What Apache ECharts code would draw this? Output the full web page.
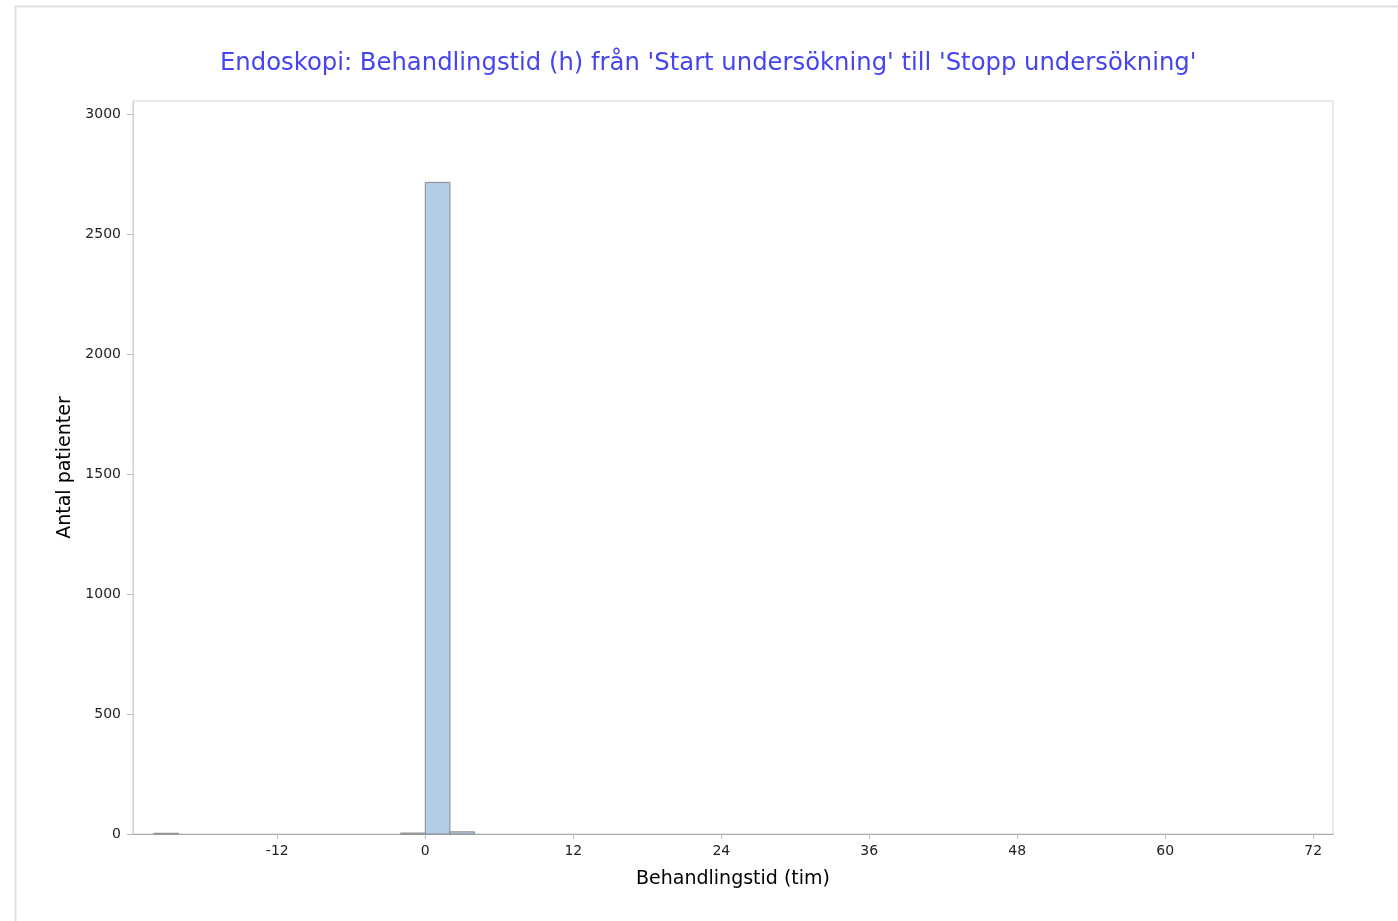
<!DOCTYPE html>
<html>
<head>
<meta charset="utf-8">
<script src="https://cdn.jsdelivr.net/npm/echarts@6/dist/echarts.min.js"></script>
<style>
html,body{margin:0;padding:0;background:#fff;}
#chart{width:1398px;height:921px;}
</style>
</head>
<body>
<div id="chart"></div>
<script>
// Histogram data (bin start in hours, bin width 2 h)
const binStarts = [-22, -2, 0, 2];
const binWidth = 2;
const counts = [3, 4, 2715, 9];
const xTicks = [-12, 0, 12, 24, 36, 48, 60, 72];
const yTicks = [0, 500, 1000, 1500, 2000, 2500, 3000];
const titleText = "Endoskopi: Behandlingstid (h) från 'Start undersökning' till 'Stopp undersökning'";
const xName = "Behandlingstid (tim)";
const yName = "Antal patienter";

const histData = binStarts.map((s, i) => [s, s + binWidth, counts[i]]);

const chart = echarts.init(document.getElementById('chart'), null, {renderer: 'canvas'});
const font = 'Verdana, "DejaVu Sans", sans-serif';
chart.setOption({
  animation: false,
  backgroundColor: '#fff',
  title: {
    text: titleText,
    left: 215,
    top: 47,
    textStyle: {color: '#4545f0', fontFamily: font, fontSize: 24.3, fontWeight: 'normal'}
  },
  graphic: [{
    type: 'rect', left: 13, top: 4, z: -1,
    shape: {width: 1383, height: 930},
    style: {fill: 'none', stroke: '#e0e0e0', lineWidth: 2}
  }],
  grid: {
    left: 133, right: 65, top: 101, bottom: 87,
    show: true, borderColor: '#d0d0d0', borderWidth: 1, backgroundColor: 'transparent'
  },
  xAxis: {
    type: 'value',
    min: -23.7, max: 73.6,
    name: xName, nameLocation: 'middle', nameGap: 36,
    nameTextStyle: {fontFamily: font, fontSize: 19, color: '#000'},
    axisLine: {show: true, onZero: false, lineStyle: {color: '#a8a8a8', width: 1}},
    axisTick: {show: true, length: 5, lineStyle: {color: '#bbb'}, customValues: xTicks},
    axisLabel: {fontFamily: font, fontSize: 14, color: '#222', margin: 10, customValues: xTicks,
      formatter: v => String(v)},
    splitLine: {show: false}
  },
  yAxis: {
    type: 'value',
    min: 0, max: 3054,
    name: yName, nameLocation: 'middle', nameGap: 56,
    nameTextStyle: {fontFamily: font, fontSize: 19, color: '#000'},
    axisLine: {show: true, onZero: false, lineStyle: {color: '#d0d0d0', width: 1}},
    axisTick: {show: true, length: 6, lineStyle: {color: '#bbb'}, customValues: yTicks},
    axisLabel: {fontFamily: font, fontSize: 14, color: '#222', margin: 12, customValues: yTicks,
      formatter: v => String(v)},
    splitLine: {show: false}
  },
  series: [{
    type: 'custom',
    data: histData,
    encode: {x: [0, 1], y: 2},
    renderItem: function (params, api) {
      const p0 = api.coord([api.value(0), api.value(2)]);
      const p1 = api.coord([api.value(1), 0]);
      return {
        type: 'rect',
        shape: {x: p0[0], y: p0[1], width: p1[0] - p0[0], height: p1[1] - p0[1]},
        style: {fill: '#b3cde9', stroke: '#8a8a8a', lineWidth: 1}
      };
    }
  }]
});
</script>
</body>
</html>
